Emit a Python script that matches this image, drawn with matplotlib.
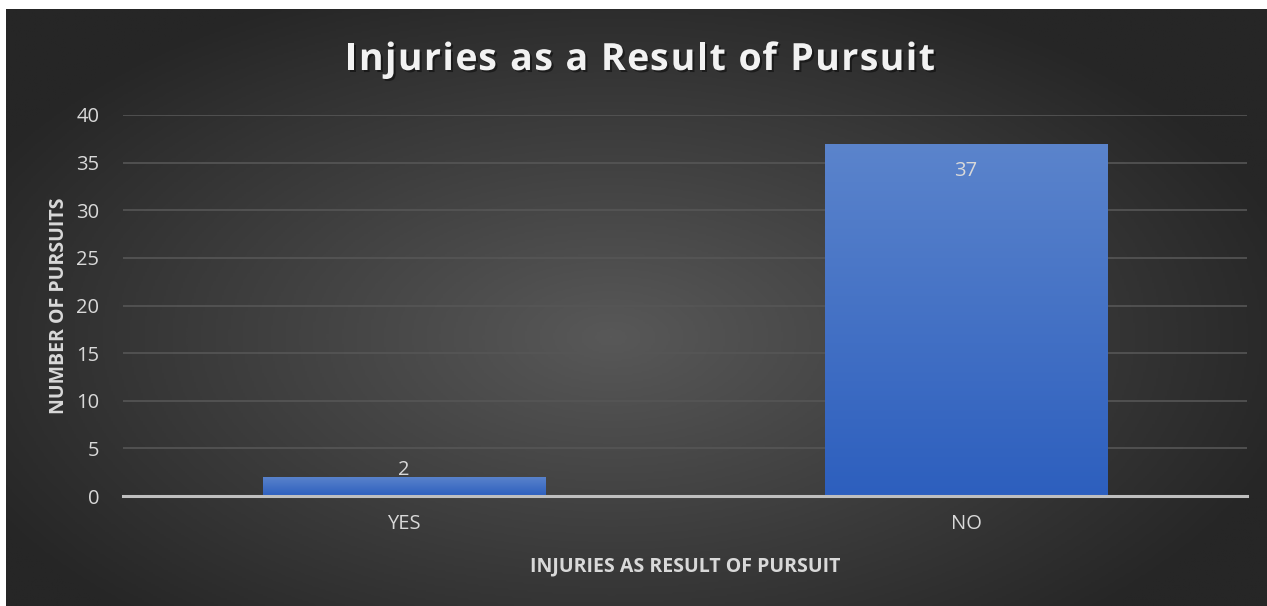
import numpy as np
import matplotlib
matplotlib.use("Agg")
import matplotlib.pyplot as plt
import matplotlib.patheffects as pe
from matplotlib.colors import LinearSegmentedColormap

categories = ["YES", "NO"]
pursuits = [2, 37]
y_ticks = [0, 5, 10, 15, 20, 25, 30, 35, 40]
title = "Injuries as a Result of Pursuit"

plt.rcParams['font.family'] = ['Open Sans', 'DejaVu Sans']

W, H = 1267, 606
fig = plt.figure(figsize=(W / 100, H / 100), dpi=100)
fig.patch.set_facecolor("white")

# dark radial background (thin white strip top/left like the reference)
bg = fig.add_axes([6 / W, 0, (W - 6) / W, (H - 9) / H])
bg.set_axis_off()
yy, xx = np.mgrid[0:1:300j, 0:1:600j]
r = np.sqrt(((xx - 0.48) / 0.75) ** 2 + ((yy - 0.55) / 0.85) ** 2)
bg_cmap = LinearSegmentedColormap.from_list("bg", ["#585858", "#262626"])
bg.imshow(r, cmap=bg_cmap, vmin=0, vmax=0.75, aspect="auto", extent=[0, 1, 0, 1])
bg.set_xlim(0, 1)
bg.set_ylim(0, 1)

# plot area
left, right, top, bottom = 123, 1247, 115, 496
ax = fig.add_axes([left / W, 1 - bottom / H, (right - left) / W, (bottom - top) / H])
ax.patch.set_alpha(0)

x = np.arange(len(categories))
bars = ax.bar(x, pursuits, width=0.502, color="#4472c4", zorder=3)

bar_cmap = LinearSegmentedColormap.from_list("bar", ["#2d5fbe", "#5b84cc"])
for b in bars:
    bx, by = b.get_x(), b.get_y()
    bw, bh = b.get_width(), b.get_height()
    grad = np.linspace(0, 1, 256).reshape(-1, 1)
    im = ax.imshow(grad, cmap=bar_cmap, origin="lower", aspect="auto",
                   extent=[bx, bx + bw, by, by + bh], zorder=4)
    im.set_clip_path(b)

ax.set_xlim(-0.5, 1.5)
ax.set_ylim(0, 40)
ax.set_yticks(y_ticks)
ax.set_xticks(x)
ax.set_xticklabels(categories)
ax.yaxis.grid(True, color="#565656", linewidth=1.2, zorder=0)
ax.set_axisbelow(True)
for s in ["top", "right", "left"]:
    ax.spines[s].set_visible(False)
ax.spines["bottom"].set_color("#bfbfbf")
ax.spines["bottom"].set_linewidth(2.2)
ax.spines["bottom"].set_zorder(5)
ax.tick_params(axis="both", length=0, colors="#d9d9d9", labelsize=14.5)
ax.tick_params(axis="x", pad=13)
ax.tick_params(axis="y", pad=17)

for b, v in zip(bars, pursuits):
    cx = b.get_x() + b.get_width() / 2
    off = -20 if v > 5 else 5
    ax.annotate(str(v), (cx, v), xytext=(0, off), textcoords="offset points",
                ha="center", va="center", color="#d9d9d9", fontsize=14.5, zorder=6)

ax.set_ylabel("NUMBER OF PURSUITS", color="#d9d9d9", fontsize=14,
              fontweight="bold", labelpad=5)
ax.set_xlabel("INJURIES AS RESULT OF PURSUIT", color="#d9d9d9", fontsize=14,
              fontweight="bold", labelpad=16)

# title with extra letter spacing
renderer = fig.canvas.get_renderer()
tprops = dict(fontsize=27, fontweight="bold")


def text_w(s):
    t = fig.text(0, 0, s, **tprops)
    w = t.get_window_extent(renderer).width
    t.remove()
    return w


xw = text_w("x")
full_w = text_w(title)
target_w = 590
spacing = (target_w - full_w) / (len(title) - 1)
x0 = 640 - target_w / 2
shadow = [pe.withSimplePatchShadow(offset=(1.5, -1.5), shadow_rgbFace="black", alpha=0.45)]
for i, ch in enumerate(title):
    if ch == " ":
        continue
    pre = text_w(title[:i] + "x") - xw if i > 0 else 0
    fig.text((x0 + pre + i * spacing) / W, 1 - 60 / H, ch, ha="left", va="center",
             color="#f2f2f2", path_effects=shadow, **tprops)

fig.savefig("out.png", dpi=100)
